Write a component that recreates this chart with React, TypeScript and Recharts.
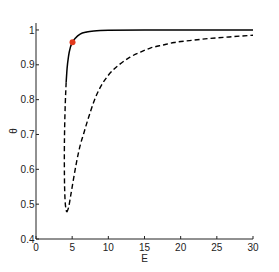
import React from 'react';
import {
  ComposedChart,
  Line,
  Scatter,
  XAxis,
  YAxis,
} from 'recharts';

// upper (stable) branch, solid
const solidE = [4.17, 4.3, 4.5, 4.75, 5.05, 5.5, 6.1, 7, 8, 10, 15, 20, 30];
const solidTheta = [0.85, 0.89, 0.925, 0.95, 0.965, 0.978, 0.988, 0.994, 0.997, 0.999, 1.0, 1.0, 1.0];

// unstable branch, dashed: first the fold (E turns back), then out to the right
const foldE = [4.17, 4.05, 3.96, 3.92, 3.93, 3.98, 4.08, 4.25];
const foldTheta = [0.85, 0.79, 0.72, 0.65, 0.58, 0.53, 0.495, 0.477];

const lowerE = [
  4.25, 4.5, 4.8, 5.2, 5.6, 6.1, 6.6, 7.13, 7.6, 8.05, 8.75, 10, 11.6, 13, 14.6, 15.8, 17.6, 19.1,
  21.5, 23.7, 26.7, 30,
];
const lowerTheta = [
  0.477, 0.49, 0.525, 0.574, 0.62, 0.668, 0.703, 0.74, 0.77, 0.797, 0.83, 0.87, 0.902, 0.922,
  0.938, 0.948, 0.957, 0.964, 0.97, 0.975, 0.98, 0.985,
];

const markerE = [5.05];
const markerTheta = [0.965];

const xTicks = [0, 5, 10, 15, 20, 25, 30];
const yTicks = [0.4, 0.5, 0.6, 0.7, 0.8, 0.9, 1];

const toPoints = (xs: number[], ys: number[]) => xs.map((E, i) => ({ E, theta: ys[i] }));
const solidData = toPoints(solidE, solidTheta);
const foldData = toPoints(foldE, foldTheta);
const lowerData = toPoints(lowerE, lowerTheta);
const markerData = toPoints(markerE, markerTheta);

const AXIS = '#222';
const tickStyle = { fontSize: 10, fill: '#222', fontFamily: '"Liberation Sans", Arial, sans-serif' };

const ThetaLabel = (props: any) => {
  const vb = props.viewBox || { x: 0, y: 0, height: 0 };
  const cx = vb.x + 13;
  const cy = vb.y + vb.height / 2;
  return (
    <text
      x={cx}
      y={cy}
      transform={`rotate(-90 ${cx} ${cy})`}
      textAnchor="middle"
      dominantBaseline="central"
      style={tickStyle}
    >
      θ
    </text>
  );
};

const App: React.FC = () => {
  return (
    <div style={{ position: 'absolute', left: 0, top: 0 }}>
      <ComposedChart
        width={279}
        height={272}
        margin={{ top: 23, right: 26, bottom: 0, left: 0 }}
      >
        <XAxis
          type="number"
          dataKey="E"
          domain={[0, 30]}
          ticks={xTicks}
          allowDataOverflow
          height={33}
          stroke={AXIS}
          tickSize={-3}
          tickMargin={8}
          tick={tickStyle}
          label={{ value: 'E', position: 'insideBottom', offset: 10, style: tickStyle }}
        />
        <XAxis
          xAxisId="top"
          orientation="top"
          type="number"
          domain={[0, 30]}
          ticks={xTicks}
          allowDataOverflow
          height={0}
          stroke={AXIS}
          tickSize={-3}
          tick={false}
        />
        <YAxis
          type="number"
          dataKey="theta"
          domain={[0.4, 1.02]}
          ticks={yTicks}
          allowDataOverflow
          width={36}
          stroke={AXIS}
          tickSize={-3}
          tickMargin={4.5}
          tick={tickStyle}
          label={<ThetaLabel />}
        />
        <YAxis
          yAxisId="r"
          orientation="right"
          type="number"
          domain={[0.4, 1.02]}
          ticks={yTicks}
          allowDataOverflow
          width={0}
          stroke={AXIS}
          tickSize={-3}
          tick={false}
        />
        <Line
          data={foldData}
          dataKey="theta"
          type="natural"
          stroke="#000"
          strokeWidth={1.4}
          strokeDasharray="5 3"
          dot={false}
          isAnimationActive={false}
        />
        <Line
          data={lowerData}
          dataKey="theta"
          type="monotone"
          stroke="#000"
          strokeWidth={1.4}
          strokeDasharray="5 3"
          dot={false}
          isAnimationActive={false}
        />
        <Line
          data={solidData}
          dataKey="theta"
          type="monotone"
          stroke="#000"
          strokeWidth={1.5}
          dot={false}
          isAnimationActive={false}
        />
        <Scatter
          data={markerData}
          dataKey="theta"
          fill="#e23a1d"
          isAnimationActive={false}
          shape={(p: any) => <circle cx={p.cx} cy={p.cy} r={3} fill="#e23a1d" />}
        />
      </ComposedChart>
    </div>
  );
};

export default App;
